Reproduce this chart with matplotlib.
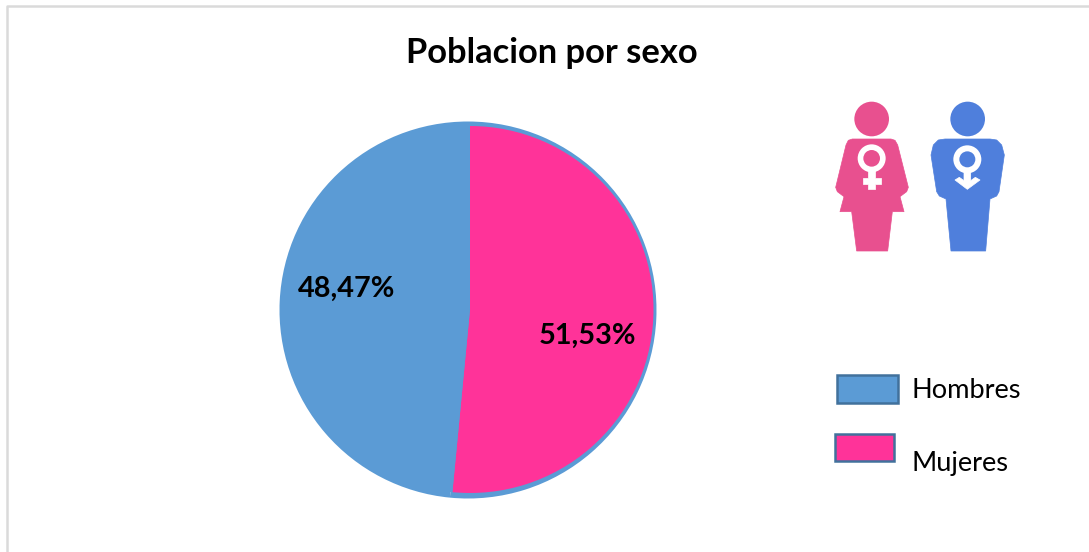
import matplotlib
matplotlib.use('Agg')
import matplotlib.pyplot as plt
from matplotlib.patches import Circle, Polygon, Rectangle

plt.rcParams['font.family'] = ['Lato', 'DejaVu Sans']

# Data
categorias = ['Mujeres', 'Hombres']
porcentajes = [51.53, 48.47]
etiquetas = ['51,53%', '48,47%']
colores = ['#FF3399', '#5B9BD5']

W, H = 1089, 552
BLUE = '#5B9BD5'


def py(y):
	'''Converts a y position measured from the top of the image.'''
	return H - y


def px_lw(pixels):
	'''Line width in points for a width given in pixels (dpi 100).'''
	return pixels * 72 / 100


def icon(ax, points, color):
	'''Draws an icon shape given in the coords of a 3x crop at (820, 90).'''
	pts = [(820 + x / 3, py(90 + y / 3)) for x, y in points]
	ax.add_patch(Polygon(pts, closed=True, facecolor=color, edgecolor=color, linewidth=0.5, joinstyle='round'))


def ring(ax, x, y, r, color):
	ax.add_patch(Circle((820 + x / 3, py(90 + y / 3)), r / 3, facecolor=color, edgecolor='none'))


fig = plt.figure(figsize=(W / 100, H / 100), dpi=100, facecolor='white')
ax = fig.add_axes([0, 0, 1, 1])

# Blue pie behind gives the outline around the pink slice
ax.pie(porcentajes, colors=[BLUE, BLUE], startangle=90, counterclock=False,
	center=(468, py(310)), radius=188.5, frame=True)

# Pie, clockwise from the top
ax.pie(porcentajes, colors=colores, startangle=90, counterclock=False,
	center=(470, py(309.5)), radius=183.5, frame=True)

ax.set_xlim(0, W)
ax.set_ylim(0, H)
ax.set_aspect('auto')
ax.axis('off')

# Chart border, only the top and left sides are visible
ax.plot([7, 7, W], [0, py(6), py(6)], color='#DADADA', linewidth=px_lw(2.5), solid_capstyle='butt')

# Title and slice labels
ax.text(551.5, py(53), 'Poblacion por sexo', ha='center', va='center', fontsize=24.8, fontweight='bold', color='black')
ax.text(587.5, py(336), etiquetas[0], ha='center', va='center', fontsize=20.8, fontweight='bold', color='black')
ax.text(347, py(289), etiquetas[1], ha='center', va='center', fontsize=20.8, fontweight='bold', color='black')

# Woman icon
PINK_ICON = '#E8508F'
ring(ax, 155, 87, 52, PINK_ICON)
icon(ax, [(97, 147), (213, 147), (225, 151), (233, 165), (262, 280), (265, 292), (260, 305), (240, 320),
	(252, 365), (217, 365), (203, 483), (110, 483), (95, 365), (60, 365), (72, 320), (52, 305),
	(47, 292), (50, 280), (78, 165), (85, 151)], PINK_ICON)
ring(ax, 155, 205, 42, 'white')
ring(ax, 155, 205, 25, PINK_ICON)
icon(ax, [(145, 240), (165, 240), (165, 263), (182, 263), (182, 283), (165, 283), (165, 298), (145, 298),
	(145, 283), (130, 283), (130, 263), (145, 263)], 'white')

# Man icon
BLUE_ICON = '#4F7FDC'
ring(ax, 443, 87, 52, BLUE_ICON)
icon(ax, [(375, 147), (510, 147), (530, 150), (545, 165), (553, 195), (537, 305), (530, 318), (510, 327),
	(497, 483), (393, 483), (378, 327), (358, 318), (350, 305), (333, 195), (340, 165), (355, 150)], BLUE_ICON)
ring(ax, 442, 208, 42, 'white')
ring(ax, 442, 208, 24, BLUE_ICON)
icon(ax, [(432, 245), (452, 245), (452, 272), (466, 262), (480, 270), (442, 298), (405, 270), (418, 262), (432, 272)], 'white')

# Legend
ax.add_patch(Rectangle((837, py(403)), 61, 28, facecolor=colores[1], edgecolor='#41719C', linewidth=px_lw(2.5)))
ax.add_patch(Rectangle((834.5, py(461)), 59.5, 27, facecolor=colores[0], edgecolor='#41719C', linewidth=px_lw(2.5)))
ax.text(912, py(391), categorias[1], ha='left', va='center', fontsize=19.6, color='black')
ax.text(912, py(463), categorias[0], ha='left', va='center', fontsize=19.6, color='black')

fig.savefig('out.png', dpi=100)
